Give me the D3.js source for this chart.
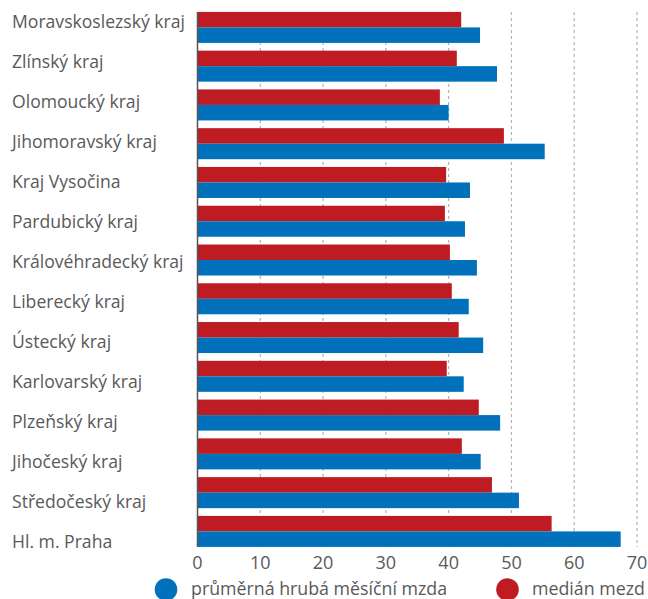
<!DOCTYPE html>
<html>
<head>
<meta charset="utf-8">
<script src="https://cdn.jsdelivr.net/npm/d3@7"></script>
<style>
  body { margin: 0; background: #fff; }
  svg { display: block; font-family: "Open Sans", sans-serif; }
</style>
</head>
<body>
<div id="chart"></div>
<script>
const regions = [
  "Moravskoslezský kraj", "Zlínský kraj", "Olomoucký kraj", "Jihomoravský kraj",
  "Kraj Vysočina", "Pardubický kraj", "Královéhradecký kraj", "Liberecký kraj",
  "Ústecký kraj", "Karlovarský kraj", "Plzeňský kraj", "Jihočeský kraj",
  "Středočeský kraj", "Hl. m. Praha"
];
// průměrná hrubá měsíční mzda (tis. Kč)
const average = [45.0, 47.7, 40.0, 55.3, 43.4, 42.6, 44.5, 43.2, 45.5, 42.4, 48.2, 45.1, 51.2, 67.4];
// medián mezd
const median = [42.0, 41.3, 38.6, 48.8, 39.6, 39.4, 40.2, 40.5, 41.6, 39.7, 44.8, 42.1, 46.9, 56.4];
const xTicks = [0, 10, 20, 30, 40, 50, 60, 70];
const seriesNames = ["průměrná hrubá měsíční mzda", "medián mezd"];

const width = 648, height = 599;
const margin = { top: 8, right: 11, bottom: 48, left: 197.5 };
const blue = "#0071ba", red = "#be1b22", textColor = "#595959";

const svg = d3.select("#chart").append("svg")
  .attr("width", width)
  .attr("height", height);

const x = d3.scaleLinear().domain([0, 70]).range([margin.left, 637]);
const y = d3.scaleBand().domain(regions)
  .range([margin.top, height - margin.bottom - 0.2])
  .paddingInner(0.2).paddingOuter(0.1);
const sub = d3.scaleBand().domain(["median", "average"]).range([0, y.bandwidth()]);
// labels sit on a slightly wider spacing than the bars
const yLabel = d3.scalePoint().domain(regions).range([23, 543]);

// dashed gridlines
svg.append("g")
  .selectAll("line")
  .data(xTicks.slice(1))
  .join("line")
  .attr("x1", d => x(d)).attr("x2", d => x(d))
  .attr("y1", y(regions[0])).attr("y2", y(regions[regions.length - 1]) + y.bandwidth())
  .attr("stroke", "#b3b3b3")
  .attr("stroke-width", 1.2)
  .attr("stroke-dasharray", "3,3");

const rows = regions.map((r, i) => ({ region: r, median: median[i], average: average[i] }));

const groups = svg.append("g").selectAll("g")
  .data(rows)
  .join("g")
  .attr("transform", d => `translate(0,${y(d.region)})`);

groups.append("rect")
  .attr("x", x(0))
  .attr("y", sub("median"))
  .attr("width", d => x(d.median) - x(0))
  .attr("height", sub.bandwidth())
  .attr("fill", red);

groups.append("rect")
  .attr("x", x(0))
  .attr("y", sub("average"))
  .attr("width", d => x(d.average) - x(0))
  .attr("height", sub.bandwidth())
  .attr("fill", blue);

// category labels
svg.append("g")
  .selectAll("text")
  .data(regions)
  .join("text")
  .attr("x", 12)
  .attr("y", d => yLabel(d))
  .attr("dominant-baseline", "middle")
  .attr("fill", textColor)
  .attr("font-size", 17.6)
  .text(d => d);

// vertical axis line
svg.append("line")
  .attr("x1", x(0)).attr("x2", x(0))
  .attr("y1", y(regions[0])).attr("y2", y(regions[regions.length - 1]) + y.bandwidth())
  .attr("stroke", "#555")
  .attr("stroke-width", 1.5);

// x tick labels
svg.append("g")
  .selectAll("text")
  .data(xTicks)
  .join("text")
  .attr("x", d => x(d))
  .attr("y", 569)
  .attr("text-anchor", "middle")
  .attr("fill", textColor)
  .attr("font-size", 18)
  .text(d => d);

// legend
const legend = [
  { name: seriesNames[0], color: blue, cx: 166, tx: 191 },
  { name: seriesNames[1], color: red, cx: 507.5, tx: 532 }
];
const lg = svg.append("g").selectAll("g").data(legend).join("g");
lg.append("circle")
  .attr("cx", d => d.cx).attr("cy", 589.5).attr("r", 11.3)
  .attr("fill", d => d.color);
lg.append("text")
  .attr("x", d => d.tx).attr("y", 595)
  .attr("fill", textColor)
  .attr("font-size", 17.8)
  .text(d => d.name);
</script>
</body>
</html>
